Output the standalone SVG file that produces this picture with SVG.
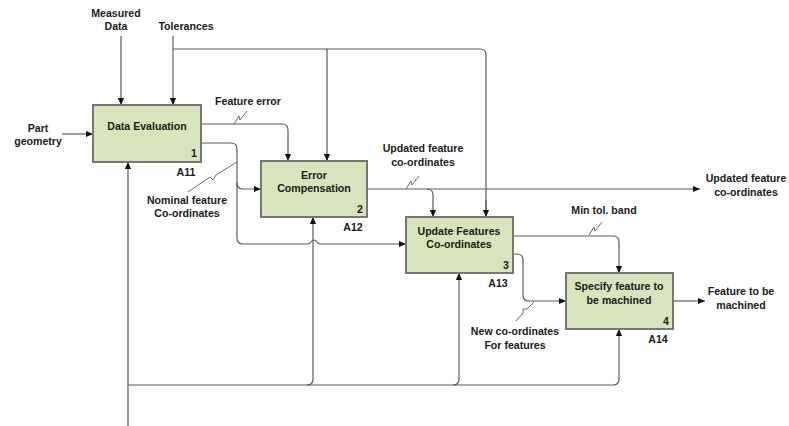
<svg xmlns="http://www.w3.org/2000/svg" width="789" height="426" viewBox="0 0 789 426">
  <defs>
    <marker id="arr" viewBox="0 0 8 8" refX="8" refY="4" markerWidth="7" markerHeight="7" markerUnits="userSpaceOnUse" orient="auto">
      <path d="M0 0.5 L8 4 L0 7.5 Z" fill="#111"/>
    </marker>
    <path id="sq" d="M0 0 L5 -8 L6 -4 L13 -13"/>
  </defs>
  <style>
    .box { fill: #d8e4bc; stroke: #777; stroke-width: 2; }
    .ln { fill: none; stroke: #5a5a5a; stroke-width: 1.2; }
    .ar { marker-end: url(#arr); }
    .sqg { fill: none; stroke: #6a6a6a; stroke-width: 1; }
    text { font-family: "Liberation Sans", Arial, sans-serif; font-weight: bold; font-size: 10.6px; fill: #1a1a1a; text-anchor: middle; }
    .num { text-anchor: end; }
  </style>
  <rect width="789" height="426" fill="#fff"/>

  <g id="connectors">
    <!-- controls -->
    <path class="ln ar" d="M121 36 V105"/>
    <path class="ln ar" d="M173 36 V105"/>
    <path class="ln" d="M173 49 H480 Q486 49 486 55 V210"/>
    <path class="ln ar" d="M486 200 V217"/>
    <path class="ln ar" d="M327 49 V161"/>
    <!-- input -->
    <path class="ln ar" d="M62 134 H93"/>
    <!-- feature error -->
    <path class="ln ar" d="M201 124 H282 Q288 124 288 130 V161"/>
    <!-- nominal feature co-ordinates -->
    <path class="ln ar" d="M201 143 H231 Q237 143 237 149 V183 Q237 189 243 189 H261"/>
    <path class="ln ar" d="M237 183 V238 Q237 244 243 244 H308 C311 244 311 240 314 240 C317 240 317 244 320 244 H406"/>
    <!-- updated feature co-ordinates -->
    <path class="ln ar" d="M367 189 H700"/>
    <path class="ln ar" d="M427 189 Q433 189 433 195 V217"/>
    <!-- min tol. band -->
    <path class="ln ar" d="M513 236 H613 Q619 236 619 242 V273"/>
    <!-- new co-ordinates -->
    <path class="ln ar" d="M513 254 H517 Q523 254 523 260 V295 Q523 301 529 301 H566"/>
    <!-- output -->
    <path class="ln ar" d="M673 301 H705"/>
    <!-- mechanism -->
    <path class="ln ar" d="M128 426 V162"/>
    <path class="ln ar" d="M128 385 H613 Q619 385 619 379 V329"/>
    <path class="ln ar" d="M307 385 Q313 385 313 379 V217"/>
    <path class="ln ar" d="M453 385 Q459 385 459 379 V273"/>
    <!-- squiggles -->
    <use href="#sq" class="sqg" x="234" y="124"/>
    <use href="#sq" class="sqg" x="406" y="189"/>
    <use href="#sq" class="sqg" x="589" y="235"/>
    <path class="sqg" d="M237 162 L216 175 L213 180 L210 177 L188 192"/>
    <path class="sqg" d="M534 302 L527 309 L523 309 L523 313 L516 321"/>
  </g>

  <g id="labels">
    <text x="116" y="17">Measured</text>
    <text x="116" y="30">Data</text>
    <text x="186" y="30">Tolerances</text>
    <text x="38" y="132">Part</text>
    <text x="38" y="145">geometry</text>
    <text x="248" y="105">Feature error</text>
    <text x="187" y="204">Nominal feature</text>
    <text x="187" y="217">Co-ordinates</text>
    <text x="423" y="152">Updated feature</text>
    <text x="423" y="166">co-ordinates</text>
    <text x="746" y="182">Updated feature</text>
    <text x="746" y="196">co-ordinates</text>
    <text x="604" y="214">Min tol. band</text>
    <text x="741" y="295">Feature to be</text>
    <text x="741" y="309">machined</text>
    <text x="515" y="335">New co-ordinates</text>
    <text x="515" y="349">For features</text>
  </g>

  <g id="a11">
    <rect class="box" x="93" y="105" width="108" height="57"/>
    <text x="147" y="130">Data Evaluation</text>
    <text class="num" x="197" y="157">1</text>
    <text x="186" y="176">A11</text>
  </g>
  <g id="a12">
    <rect class="box" x="261" y="161" width="106" height="56"/>
    <text x="314" y="179">Error</text>
    <text x="314" y="192">Compensation</text>
    <text class="num" x="363" y="213">2</text>
    <text x="353" y="231">A12</text>
  </g>
  <g id="a13">
    <rect class="box" x="406" y="217" width="107" height="56"/>
    <text x="459" y="235">Update Features</text>
    <text x="459" y="248">Co-ordinates</text>
    <text class="num" x="509" y="269">3</text>
    <text x="498" y="287">A13</text>
  </g>
  <g id="a14">
    <rect class="box" x="566" y="273" width="107" height="56"/>
    <text x="619" y="290">Specify feature to</text>
    <text x="619" y="304">be machined</text>
    <text class="num" x="669" y="325">4</text>
    <text x="658" y="343">A14</text>
  </g>
</svg>
